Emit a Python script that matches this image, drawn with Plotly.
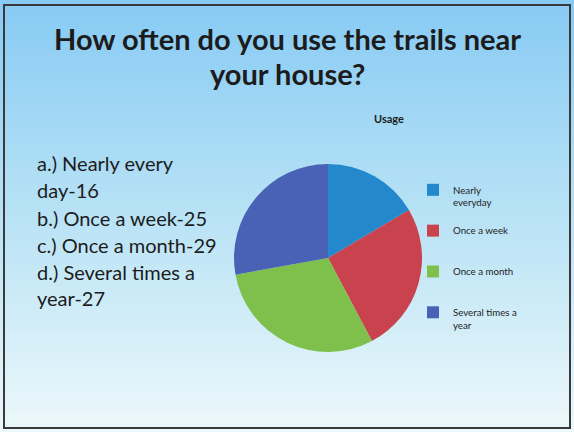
import plotly.graph_objects as go

# ---- data ----
categories = ["Nearly everyday", "Once a week", "Once a month", "Several times a year"]
values = [16, 25, 29, 27]
left_lines = ["a.) Nearly every", "day-16", "b.) Once a week-25", "c.) Once a month-29",
              "d.) Several times a", "year-27"]
title_lines = ["How often do you use the trails near", "your house?"]
chart_title = "Usage"

# ---- styles ----
slice_colors = ["#2389cc", "#c9434f", "#7fc04d", "#4a62b6"]
# legend label wrapping (Excel-like wrapping & spacing)
legend_labels = {
    "Nearly everyday": "Nearly<br>everyday<br> ",
    "Once a week": "Once a week<br> <br> ",
    "Once a month": "Once a month<br> <br> ",
    "Several times a year": "Several times a<br>year",
}

W, H = 574, 432

fig = go.Figure()
fig.add_trace(go.Pie(
    labels=[legend_labels[c] for c in categories],
    values=values,
    sort=False,
    direction="clockwise",
    rotation=0,
    textinfo="none",
    marker=dict(colors=slice_colors, line=dict(width=0)),
    domain=dict(x=[234 / W, 422 / W], y=[1 - 352 / H, 1 - 164 / H]),
    showlegend=True,
))

# gradient background via thin stacked rectangles
shapes = []
top = (136, 203, 244)
mid = (185, 227, 246)
bot = (236, 248, 251)
n = 80
for i in range(n):
    t = i / (n - 1)
    if t < 0.5:
        u = t / 0.5
        c = tuple(int(top[k] + (mid[k] - top[k]) * u) for k in range(3))
    else:
        u = (t - 0.5) / 0.5
        c = tuple(int(mid[k] + (bot[k] - mid[k]) * u) for k in range(3))
    y1 = 1 - i / n
    y0 = 1 - (i + 1) / n - 0.002
    shapes.append(dict(type="rect", xref="paper", yref="paper", x0=0, x1=1, y0=y0, y1=y1,
                       fillcolor="rgb(%d,%d,%d)" % c, line=dict(width=0), layer="below"))
# slide border
shapes.append(dict(type="rect", xref="paper", yref="paper",
                   x0=4 / W, x1=570 / W, y0=1 - 428 / H, y1=1 - 5 / H,
                   line=dict(color="#3a3a3a", width=2), fillcolor="rgba(0,0,0,0)", layer="above"))

annotations = []
for txt, yy in zip(title_lines, [38, 73]):
    annotations.append(dict(text="<b>%s</b>" % txt, x=0.5, y=1 - yy / H, xref="paper", yref="paper",
                            xanchor="center", yanchor="middle", showarrow=False,
                            font=dict(family="Lato", size=29, color="#1c1c1c")))
annotations.append(dict(text="<b>%s</b>" % chart_title, x=389 / W, y=1 - 118 / H, xref="paper",
                        yref="paper", xanchor="center", yanchor="middle", showarrow=False,
                        font=dict(family="Lato", size=11, color="#1c1c1c")))
line_y = [163, 190, 218, 245, 272, 298]
for txt, yy in zip(left_lines, line_y):
    annotations.append(dict(text=txt, x=35 / W, y=1 - yy / H, xref="paper", yref="paper",
                            xanchor="left", yanchor="middle", showarrow=False,
                            font=dict(family="Lato", size=20, color="#1c1c1c")))

fig.update_layout(
    width=W, height=H,
    margin=dict(l=0, r=0, t=0, b=0),
    paper_bgcolor="#ffffff",
    shapes=shapes,
    annotations=annotations,
    legend=dict(x=413 / W, y=1 - 177 / H, xanchor="left", yanchor="top",
                font=dict(family="Lato", size=9.7, color="#1c1c1c"),
                bgcolor="rgba(0,0,0,0)", itemwidth=30, valign="top"),
)

fig.write_html("out.html", config={"displayModeBar": False},
               post_script="document.body.style.margin='0';")
